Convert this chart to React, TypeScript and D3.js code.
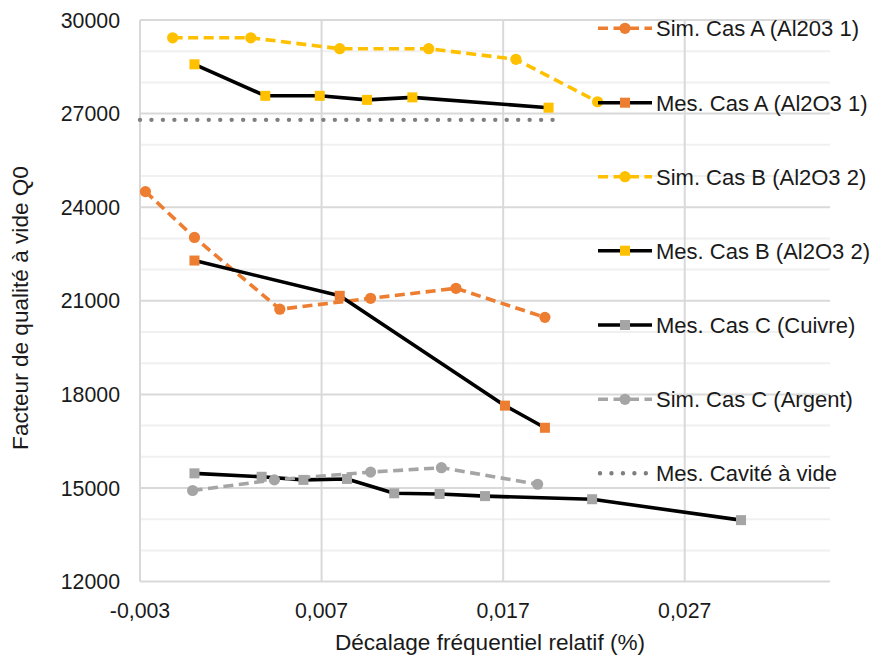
import React from "react";
import * as d3 from "d3";

const simA_x = [-0.0027, 0.0, 0.0047, 0.0097, 0.0144, 0.0193];
const simA_y = [24500, 23030, 20730, 21080, 21400, 20470];
const mesA_x = [0.0, 0.008, 0.0171, 0.0193];
const mesA_y = [22290, 21160, 17640, 16930];
const simB_x = [-0.0012, 0.0031, 0.008, 0.0129, 0.0177, 0.0222];
const simB_y = [29430, 29430, 29080, 29080, 28740, 27380];
const mesB_x = [0.0, 0.0039, 0.0069, 0.0095, 0.012, 0.0195];
const mesB_y = [28580, 27570, 27570, 27440, 27520, 27190];
const mesC_x = [0.0, 0.0037, 0.006, 0.0084, 0.011, 0.0135, 0.016, 0.0219, 0.0301];
const mesC_y = [15470, 15360, 15260, 15290, 14830, 14810, 14740, 14640, 13970];
const simC_x = [-0.0001, 0.0044, 0.0097, 0.0136, 0.0189];
const simC_y = [14920, 15260, 15510, 15650, 15120];
const vide_x = [-0.003, 0.01985];
const vide_y = [26800, 26800];

const xTicks = [-0.003, 0.007, 0.017, 0.027];
const yTicks = [12000, 15000, 18000, 21000, 24000, 27000, 30000];
const yMinor = d3.range(12000, 30001, 1000);

const legendLabels = [
  "Sim. Cas A (Al203 1)",
  "Mes. Cas A (Al2O3 1)",
  "Sim. Cas B (Al2O3 2)",
  "Mes. Cas B (Al2O3 2)",
  "Mes. Cas C (Cuivre)",
  "Sim. Cas C (Argent)",
  "Mes. Cavité à vide",
];

type Series = {
  xs: number[];
  ys: number[];
  line: string;
  dash?: string;
  width: number;
  marker: "circle" | "square" | "none";
  mcolor: string;
  cap?: string;
};

const series: Series[] = [
  { xs: simA_x, ys: simA_y, line: "#ED7D31", dash: "10 5.5", width: 3.6, marker: "circle", mcolor: "#ED7D31" },
  { xs: mesA_x, ys: mesA_y, line: "#000000", width: 3.6, marker: "square", mcolor: "#ED7D31" },
  { xs: simB_x, ys: simB_y, line: "#FFC000", dash: "10 5.5", width: 3.6, marker: "circle", mcolor: "#FFC000" },
  { xs: mesB_x, ys: mesB_y, line: "#000000", width: 3.6, marker: "square", mcolor: "#FFC000" },
  { xs: mesC_x, ys: mesC_y, line: "#000000", width: 3.6, marker: "square", mcolor: "#A5A5A5" },
  { xs: simC_x, ys: simC_y, line: "#A5A5A5", dash: "10 5.5", width: 3.6, marker: "circle", mcolor: "#A5A5A5" },
  { xs: vide_x, ys: vide_y, line: "#7F7F7F", dash: "0.01 11.45", width: 4.4, marker: "none", mcolor: "#7F7F7F", cap: "round" },
];

const W = 871;
const H = 659;
const left = 140, right = 830, top = 20, bottom = 581.6;
const font = "'Liberation Sans', Arial, sans-serif";
const textColor = "#1a1a1a";

function Marker({ kind, x, y, color }: { kind: string; x: number; y: number; color: string }) {
  if (kind === "circle") return <circle cx={x} cy={y} r={5.6} fill={color} />;
  if (kind === "square") return <rect x={x - 5} y={y - 5} width={10} height={10} fill={color} />;
  return null;
}

export default function App() {
  const x = d3.scaleLinear().domain([-0.003, 0.035]).range([left, right]);
  const y = d3.scaleLinear().domain([12000, 30000]).range([bottom, top]);
  const fmtX = (v: number) => d3.format(".3f")(v).replace(".", ",").replace("−", "-");
  const legendY = [28.3, 102.7, 176.7, 250.7, 325, 399.3, 473.3];

  return (
    <svg width={W} height={H} style={{ position: "absolute", left: 0, top: 0, background: "#fff" }}>
      <rect x={0} y={0} width={W} height={H} fill="#fff" />
      {yMinor.filter((v) => v % 3000 !== 0).map((v) => (
        <line key={"m" + v} x1={left} x2={right} y1={y(v)} y2={y(v)} stroke="#f0f0f0" strokeWidth={2} />
      ))}
      {yTicks.map((v) => (
        <line key={"g" + v} x1={left} x2={right} y1={y(v)} y2={y(v)} stroke="#d9d9d9" strokeWidth={2} />
      ))}
      {xTicks.map((v) => (
        <line key={"v" + v} x1={x(v)} x2={x(v)} y1={top} y2={bottom} stroke="#d9d9d9" strokeWidth={2} />
      ))}
      {yTicks.map((v) => (
        <text key={"yt" + v} x={120} y={y(v)} dy="0.36em" textAnchor="end" fontFamily={font} fontSize={21.3} fill={textColor}>
          {v}
        </text>
      ))}
      {xTicks.map((v) => (
        <text key={"xt" + v} x={x(v)} y={618} textAnchor="middle" fontFamily={font} fontSize={21.3} fill={textColor}>
          {fmtX(v)}
        </text>
      ))}
      <text x={490} y={650} textAnchor="middle" fontFamily={font} fontSize={22.6} fill={textColor}>
        Décalage fréquentiel relatif (%)
      </text>
      <text transform={`translate(28,308) rotate(-90)`} textAnchor="middle" fontFamily={font} fontSize={22.6} fill={textColor}>
        Facteur de qualité à vide Q0
      </text>
      {series.map((s, si) => {
        const pts: [number, number][] = s.xs.map((v, i) => [x(v), y(s.ys[i])]);
        const path = d3.line()(pts) || "";
        return (
          <g key={"s" + si}>
            <path d={path} fill="none" stroke={s.line} strokeWidth={s.width} strokeDasharray={s.dash} strokeLinecap={(s.cap as any) || "butt"} strokeLinejoin="round" />
            {pts.map((p, i) => (
              <Marker key={i} kind={s.marker} x={p[0]} y={p[1]} color={s.mcolor} />
            ))}
          </g>
        );
      })}
      {series.map((s, i) => {
        const ly = legendY[i];
        return (
          <g key={"lg" + i}>
            <line x1={s.cap ? 600 : 598} x2={652} y1={ly} y2={ly} stroke={s.line} strokeWidth={s.width} strokeDasharray={s.dash} strokeLinecap={(s.cap as any) || "butt"} />
            <Marker kind={s.marker} x={625} y={ly} color={s.mcolor} />
            <text x={656} y={ly} dy="0.36em" fontFamily={font} fontSize={22} fill={textColor}>
              {legendLabels[i]}
            </text>
          </g>
        );
      })}
    </svg>
  );
}
